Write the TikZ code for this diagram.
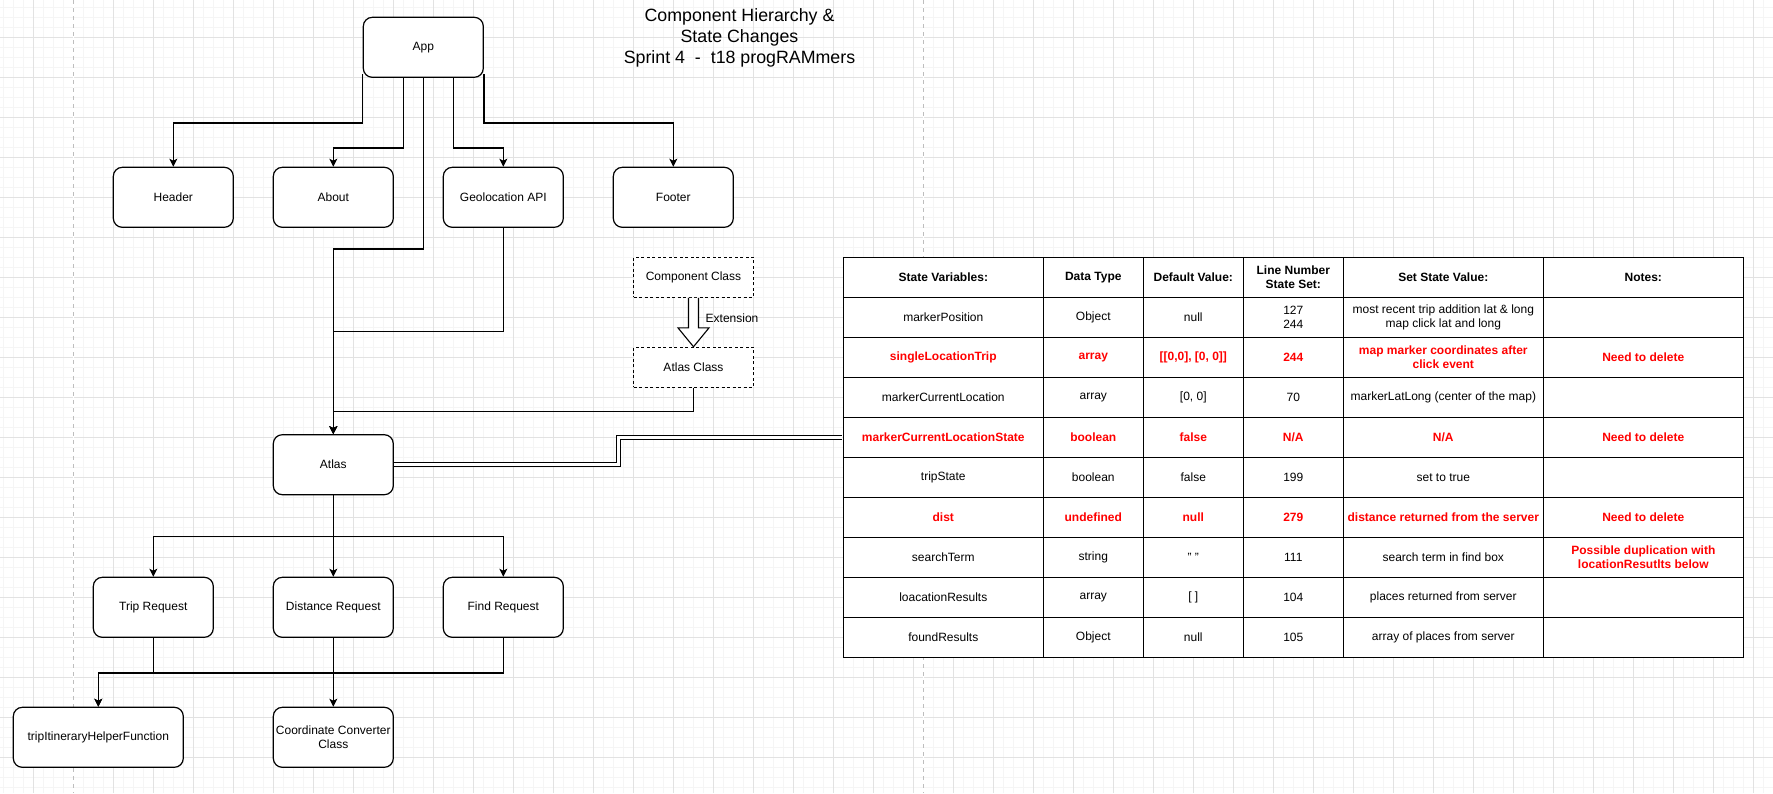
\documentclass[tikz,border=0pt]{standalone}
\usepackage{fontspec}
\setmainfont{Liberation Sans}
\usetikzlibrary{arrows.meta,calc}
\definecolor{minorgrid}{RGB}{245,245,245}
\definecolor{majorgrid}{RGB}{226,226,226}
\definecolor{pagebreak}{RGB}{190,190,190}
\definecolor{redtxt}{RGB}{255,0,0}
\begin{document}
\begin{tikzpicture}[x=1pt,y=-1pt,
  box/.style={draw, line width=1.2pt, rounded corners=9pt, fill=white, minimum width=120pt, minimum height=60pt, align=center, inner sep=2pt, font=\fontsize{12}{14}\selectfont},
  dbox/.style={draw, line width=1.1pt, dash pattern=on 3pt off 2.5pt, fill=white, minimum width=120pt, minimum height=40pt, font=\fontsize{12}{14}\selectfont},
  conn/.style={line width=1.2pt},
  arr/.style={conn, -{Stealth[length=8pt,width=8pt,inset=2pt]}},
  cell/.style={draw, line width=1.2pt, fill=white, minimum height=40pt, align=center, inner sep=0pt, font=\fontsize{12}{14}\selectfont},
  hd/.style={cell, font=\fontsize{12}{14}\selectfont\bfseries},
  rd/.style={cell, text=redtxt, font=\fontsize{12}{14}\selectfont\bfseries},
  wa/.style={minimum width=200pt}, wb/.style={minimum width=100pt},
  lbl/.style={font=\fontsize{12}{14}\selectfont, inner sep=0pt}
]
\useasboundingbox (0,0) rectangle (1773,793);
\fill[white] (0,0) rectangle (1773,793);
% grid
\foreach \x in {3.3,13.3,...,1773} \draw[minorgrid, line width=1pt] (\x,0) -- (\x,793);
\foreach \y in {7.3,17.3,...,793} \draw[minorgrid, line width=1pt] (0,\y) -- (1773,\y);
\foreach \x in {33.3,73.3,...,1773} \draw[majorgrid, line width=1pt] (\x,0) -- (\x,793);
\foreach \y in {37.3,77.3,...,793} \draw[majorgrid, line width=1pt] (0,\y) -- (1773,\y);
\foreach \x in {73.3,923.3} {
  \draw[white, line width=1.2pt] (\x,0) -- (\x,793);
  \draw[pagebreak, line width=1pt, dash pattern=on 4pt off 4pt] (\x,0) -- (\x,793);
}
% title
\node[align=center, inner sep=0pt, font=\fontsize{17.8}{21.2}\selectfont] (title) at (739.5,37.6)
  {Component Hierarchy \&\\State Changes\\Sprint 4~~-~~t18 progRAMmers};
% tree nodes
\node[box] (app) at (423.3,47.3) {App};
\node[box] (header) at (173.3,197.3) {Header};
\node[box] (about) at (333.3,197.3) {About};
\node[box] (geo) at (503.3,197.3) {Geolocation API};
\node[box] (footer) at (673.3,197.3) {Footer};
\node[dbox] (cc) at (693.5,277.3) {Component Class};
\node[dbox] (ac) at (693.5,367.3) {Atlas Class};
\node[box] (atlas) at (333.3,464.7) {Atlas};
\node[box] (trip) at (153.3,607.3) {Trip Request};
\node[box] (dist) at (333.3,607.3) {Distance Request};
\node[box] (find) at (503.3,607.3) {Find Request};
\node[box, minimum width=170pt] (helper) at (98.3,737.3) {tripItineraryHelperFunction};
\node[box] (coord) at (333.3,737.3) {Coordinate Converter\\Class};
% extension block arrow
\draw[line width=1.1pt, fill=white] ($(cc.south)+(-5,0)$) -- ($(cc.south)+(-5,30)$) -- ($(cc.south)+(-15.5,30)$) -- (ac.north) -- ($(cc.south)+(15.5,30)$) -- ($(cc.south)+(5,30)$) -- ($(cc.south)+(5,0)$);
\node[lbl, anchor=west] (ext) at ($(cc.south)+(12,20.4)$) {Extension};
% connectors
\draw[arr] ($(app.south west)+(0,-3.5)$) -- ++(0,48.5) -| (header.north);
\draw[arr] ($(app.south)+(-20,0)$) -- ++(0,70) -| (about.north);
\draw[arr] ($(app.south)+(30,0)$) -- ++(0,70) -| (geo.north);
\draw[arr] ($(app.south east)+(0,-3.5)$) -- ++(0,48.5) -| (footer.north);
\draw[arr] (app.south) -- ++(0,171) -| (atlas.north);
\draw[arr] (geo.south) -- ++(0,103.4) -| (atlas.north);
\draw[arr] (ac.south) -- ++(0,23.7) -| (atlas.north);
\draw[arr] (atlas.south) -- ++(0,41.5) -| (trip.north);
\draw[arr] (atlas.south) -- (dist.north);
\draw[arr] (atlas.south) -- ++(0,41.5) -| (find.north);
\draw[arr] (trip.south) -- ++(0,35) -| (helper.north);
\draw[arr] (find.south) -- ++(0,35) -| (helper.north);
\draw[arr] (dist.south) -- (coord.north);
% table
\node[hd,wa] (r0c1) at (943.3,277.3) {State Variables:};
\node[hd,wb] (r0c2) at (1093.3,277.3) {Data Type};
\node[hd,wb] (r0c3) at (1193.3,277.3) {Default Value:};
\node[hd,wb] (r0c4) at (1293.3,277.3) {Line Number\\State Set:};
\node[hd,wa] (r0c5) at (1443.3,277.3) {Set State Value:};
\node[hd,wa] (r0c6) at (1643.3,277.3) {Notes:};
%
\node[cell,wa] (r1c1) at (943.3,317.3) {markerPosition};
\node[cell,wb] (r1c2) at (1093.3,317.3) {Object};
\node[cell,wb] (r1c3) at (1193.3,317.3) {null};
\node[cell,wb] (r1c4) at (1293.3,317.3) {127\\244};
\node[cell,wa] (r1c5) at (1443.3,317.3) {most recent trip addition lat {\char38} long\\map click lat and long};
\node[cell,wa] (r1c6) at (1643.3,317.3) {};
%
\node[rd,wa] (r2c1) at (943.3,357.3) {singleLocationTrip};
\node[rd,wb] (r2c2) at (1093.3,357.3) {array};
\node[rd,wb] (r2c3) at (1193.3,357.3) {[[0,0], [0, 0]]};
\node[rd,wb] (r2c4) at (1293.3,357.3) {244};
\node[rd,wa] (r2c5) at (1443.3,357.3) {map marker coordinates after\\click event};
\node[rd,wa] (r2c6) at (1643.3,357.3) {Need to delete};
%
\node[cell,wa] (r3c1) at (943.3,397.3) {markerCurrentLocation};
\node[cell,wb] (r3c2) at (1093.3,397.3) {array};
\node[cell,wb] (r3c3) at (1193.3,397.3) {[0, 0]};
\node[cell,wb] (r3c4) at (1293.3,397.3) {70};
\node[cell,wa] (r3c5) at (1443.3,397.3) {markerLatLong (center of the map)};
\node[cell,wa] (r3c6) at (1643.3,397.3) {};
%
\node[rd,wa] (r4c1) at (943.3,437.3) {markerCurrentLocationState};
\node[rd,wb] (r4c2) at (1093.3,437.3) {boolean};
\node[rd,wb] (r4c3) at (1193.3,437.3) {false};
\node[rd,wb] (r4c4) at (1293.3,437.3) {N/A};
\node[rd,wa] (r4c5) at (1443.3,437.3) {N/A};
\node[rd,wa] (r4c6) at (1643.3,437.3) {Need to delete};
%
\node[cell,wa] (r5c1) at (943.3,477.3) {tripState};
\node[cell,wb] (r5c2) at (1093.3,477.3) {boolean};
\node[cell,wb] (r5c3) at (1193.3,477.3) {false};
\node[cell,wb] (r5c4) at (1293.3,477.3) {199};
\node[cell,wa] (r5c5) at (1443.3,477.3) {set to true};
\node[cell,wa] (r5c6) at (1643.3,477.3) {};
%
\node[rd,wa] (r6c1) at (943.3,517.3) {dist};
\node[rd,wb] (r6c2) at (1093.3,517.3) {undefined};
\node[rd,wb] (r6c3) at (1193.3,517.3) {null};
\node[rd,wb] (r6c4) at (1293.3,517.3) {279};
\node[rd,wa] (r6c5) at (1443.3,517.3) {distance returned from the server};
\node[rd,wa] (r6c6) at (1643.3,517.3) {Need to delete};
%
\node[cell,wa] (r7c1) at (943.3,557.3) {searchTerm};
\node[cell,wb] (r7c2) at (1093.3,557.3) {string};
\node[cell,wb] (r7c3) at (1193.3,557.3) {" "};
\node[cell,wb] (r7c4) at (1293.3,557.3) {111};
\node[cell,wa] (r7c5) at (1443.3,557.3) {search term in find box};
\node[rd,wa] (r7c6) at (1643.3,557.3) {Possible duplication with\\locationResutlts below};
%
\node[cell,wa] (r8c1) at (943.3,597.3) {loacationResults};
\node[cell,wb] (r8c2) at (1093.3,597.3) {array};
\node[cell,wb] (r8c3) at (1193.3,597.3) {[ ]};
\node[cell,wb] (r8c4) at (1293.3,597.3) {104};
\node[cell,wa] (r8c5) at (1443.3,597.3) {places returned from server};
\node[cell,wa] (r8c6) at (1643.3,597.3) {};
%
\node[cell,wa] (r9c1) at (943.3,637.3) {foundResults};
\node[cell,wb] (r9c2) at (1093.3,637.3) {Object};
\node[cell,wb] (r9c3) at (1193.3,637.3) {null};
\node[cell,wb] (r9c4) at (1293.3,637.3) {105};
\node[cell,wa] (r9c5) at (1443.3,637.3) {array of places from server};
\node[cell,wa] (r9c6) at (1643.3,637.3) {};
% atlas to state table link
\draw[conn, line width=1pt, double=white, double distance=3.2pt, shorten >=0.6pt]
  (atlas.east) -| ($(atlas.east)!0.5!(r4c1.west)$) |- (r4c1.west);
\end{tikzpicture}
\end{document}
